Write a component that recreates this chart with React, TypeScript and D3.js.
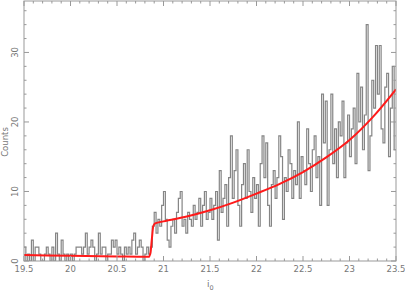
import React from "react";
import * as d3 from "d3";

const binStart = 19.5;
const binWidth = 0.02;
const counts: number[] = [
  2,0,1,0,3,0,2,2,1,0,
  0,1,2,1,0,2,0,4,1,0,
  3,1,0,1,0,1,0,1,2,2,
  2,1,2,4,1,2,3,2,0,1,
  4,1,2,2,0,1,1,3,2,3,
  1,2,1,0,2,1,2,1,3,4,
  1,2,3,2,0,1,2,1,2,5,
  7,4,6,5,8,10,6,3,2,5,
  6,4,7,9,10,5,6,4,7,6,
  5,8,6,7,9,5,8,10,6,7,
  9,6,8,10,3,13,7,9,11,5,
  12,18,9,13,16,8,5,11,14,9,
  16,10,7,12,9,11,5,14,18,12,
  17,8,5,11,13,9,12,18,15,6,
  12,10,16,14,9,13,11,20,9,15,
  13,11,19,14,10,16,18,12,15,8,
  24,17,23,8,16,24,14,19,12,20,
  18,23,12,17,21,15,19,22,14,27,
  20,25,16,21,34,13,18,26,22,31,
  24,31,19,17,25,27,15,22,28,16,
];

const modelX: number[] = [19.5, 20.0, 20.5, 20.84, 20.86, 20.875, 20.89, 20.91, 21.0, 21.25, 21.5, 21.75, 22.0, 22.25, 22.5, 22.75, 23.0, 23.25, 23.5];
const modelY: number[] = [0.85, 0.75, 0.65, 0.6, 1.2, 3.2, 5.0, 5.4, 5.7, 6.4, 7.3, 8.4, 9.7, 11.1, 12.8, 14.9, 17.4, 20.7, 24.7];

const xTicks: number[] = [19.5, 20, 20.5, 21, 21.5, 22, 22.5, 23, 23.5];
const yTicks: number[] = [0, 10, 20, 30];

export default function App() {
  const W = 405, H = 291;
  const L = 24, R = 396, T = 1, B = 261;
  const x = d3.scaleLinear().domain([19.5, 23.5]).range([L, R]);
  const y = d3.scaleLinear().domain([0, 37.4]).range([B, T]);

  const steps: [number, number][] = [];
  counts.forEach((c, i) => {
    steps.push([binStart + i * binWidth, c]);
  });
  steps.push([binStart + counts.length * binWidth, counts[counts.length - 1]]);
  const histPath = d3.line<[number, number]>()
    .x(d => x(d[0])).y(d => y(d[1]))
    .curve(d3.curveStepAfter)(steps) || "";

  const model: [number, number][] = modelX.map((v, i) => [v, modelY[i]]);
  const modelPath = d3.line<[number, number]>()
    .x(d => x(d[0])).y(d => y(d[1]))
    .curve(d3.curveMonotoneX)(model) || "";

  const xMinor = d3.range(19.5, 23.5001, 0.1);
  const yMinor = d3.range(0, 37.4, 2);
  const axisColor = "#999";
  const textColor = "#777";
  const font = "DejaVu Sans, sans-serif";

  return (
    <svg width={W} height={H} style={{ position: "absolute", left: 0, top: 0, background: "#fff" }}>
      <defs>
        <clipPath id="plot">
          <rect x={L} y={T} width={R - L} height={B - T} />
        </clipPath>
      </defs>
      <g clipPath="url(#plot)">
        <path d={histPath} fill="none" stroke="#858585" strokeWidth={1.2} />
        <path d={modelPath} fill="none" stroke="#ff1a1a" strokeWidth={2} />
      </g>
      <rect x={L} y={T} width={R - L} height={B - T} fill="none" stroke={axisColor} strokeWidth={1} />
      {xMinor.map((v, i) => {
        const major = i % 5 === 0;
        const len = major ? 5 : 2.5;
        const px = x(v);
        return (
          <g key={"xm" + i}>
            <line x1={px} x2={px} y1={B} y2={B - len} stroke={axisColor} />
            <line x1={px} x2={px} y1={T} y2={T + len} stroke={axisColor} />
          </g>
        );
      })}
      {yMinor.map((v, i) => {
        const major = v % 10 === 0;
        const len = major ? 5 : 2.5;
        const py = y(v);
        return (
          <g key={"ym" + i}>
            <line x1={L} x2={L + len} y1={py} y2={py} stroke={axisColor} />
            <line x1={R} x2={R - len} y1={py} y2={py} stroke={axisColor} />
          </g>
        );
      })}
      {xTicks.map((v, i) => (
        <text key={"xt" + i} x={x(v)} y={272} fontSize={8.5} fontFamily={font} fill={textColor} textAnchor="middle">
          {String(v)}
        </text>
      ))}
      {yTicks.map((v, i) => (
        <text key={"yt" + i} transform={`translate(18,${y(v)}) rotate(-90)`} fontSize={8.5} fontFamily={font} fill={textColor} textAnchor="middle">
          {String(v)}
        </text>
      ))}
      <text transform={`translate(8,142) rotate(-90)`} fontSize={8.5} fontFamily={font} fill={textColor} textAnchor="middle">Counts</text>
      <text x={207} y={287} fontSize={9} fontFamily={font} fill={textColor}>
        i<tspan fontSize={6.5} dy={2.5}>0</tspan>
      </text>
    </svg>
  );
}
